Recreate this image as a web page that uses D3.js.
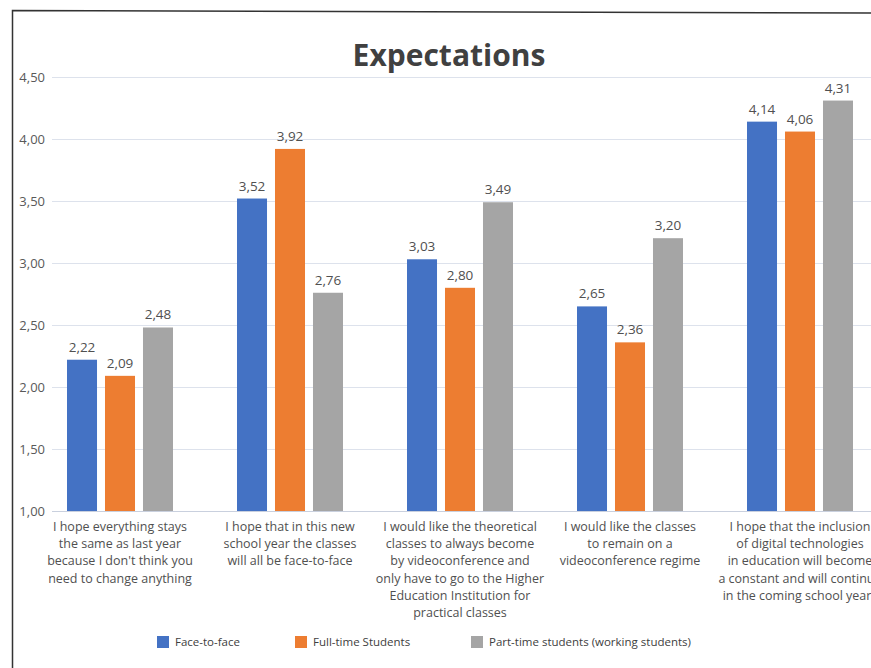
<!DOCTYPE html>
<html>
<head>
<meta charset="utf-8">
<script src="https://cdn.jsdelivr.net/npm/d3@7"></script>
<style>
  body { margin: 0; background: #fff; }
  svg { display: block; font-family: "Open Sans", "Noto Sans", sans-serif; }
</style>
</head>
<body>
<svg id="chart" width="871" height="668"></svg>
<script>
// data
const categories = [
  ["I hope everything stays", "the same as last year", "because I don't think you", "need to change anything"],
  ["I hope that in this new", "school year the classes", "will all be face-to-face"],
  ["I would like the theoretical", "classes to always become", "by videoconference and", "only have to go to the Higher", "Education Institution for", "practical classes"],
  ["I would like the classes", "to remain on a", "videoconference regime"],
  ["I hope that the inclusion", "of digital technologies", "in education will become", "a constant and will continue", "in the coming school years"]
];
const seriesNames = ["Face-to-face", "Full-time Students", "Part-time students (working students)"];
const faceToFace = [2.22, 3.52, 3.03, 2.65, 4.14];
const fullTime = [2.09, 3.92, 2.80, 2.36, 4.06];
const partTime = [2.48, 2.76, 3.49, 3.20, 4.31];
const yTicks = [1.0, 1.5, 2.0, 2.5, 3.0, 3.5, 4.0, 4.5];
const colors = ["#4472c4", "#ed7d31", "#a5a5a5"];

const series = [faceToFace, fullTime, partTime];
const fmt = v => d3.format(".2f")(v).replace(".", ",");

const svg = d3.select("#chart");

// frame of the scanned figure
svg.append("path")
    .attr("d", "M12.5,668 L12.5,10.5 L871,13")
    .attr("fill", "none")
    .attr("stroke", "#333")
    .attr("stroke-width", 1.5);

const y = d3.scaleLinear().domain([1, 4.5]).range([511, 77]);
const x0 = d3.scaleBand().domain(d3.range(categories.length)).range([35, 885]).padding(0);
const x1 = d3.scaleBand().domain(d3.range(series.length))
    .range([32, x0.bandwidth() - 32]).paddingInner(0.21);

// gridlines
svg.append("g").selectAll("line")
    .data(yTicks)
    .join("line")
    .attr("x1", 52)
    .attr("x2", 871)
    .attr("y1", d => Math.round(y(d)) + 0.5)
    .attr("y2", d => Math.round(y(d)) + 0.5)
    .attr("stroke", d => d === 1 ? "#c9d0de" : "#dde2ec")
    .attr("stroke-width", 1);

// y tick labels
svg.append("g").selectAll("text")
    .data(yTicks)
    .join("text")
    .attr("x", 45)
    .attr("y", d => y(d))
    .attr("dy", "0.35em")
    .attr("text-anchor", "end")
    .attr("font-size", 13)
    .attr("fill", "#595959")
    .text(fmt);

// bars
const groups = svg.append("g").selectAll("g")
    .data(categories)
    .join("g")
    .attr("transform", (d, i) => `translate(${x0(i)},0)`);

const cells = groups.selectAll("g.cell")
    .data((d, i) => series.map((s, j) => ({ j, v: s[i] })))
    .join("g")
    .attr("class", "cell");

cells.append("rect")
    .attr("x", d => x1(d.j))
    .attr("y", d => y(d.v))
    .attr("width", x1.bandwidth())
    .attr("height", d => y(1) - y(d.v))
    .attr("fill", d => colors[d.j]);

cells.append("text")
    .attr("x", d => x1(d.j) + x1.bandwidth() / 2)
    .attr("y", d => y(d.v) - 8)
    .attr("text-anchor", "middle")
    .attr("font-size", 13.5)
    .attr("fill", "#505050")
    .text(d => fmt(d.v));

// category labels
groups.append("text")
    .attr("x", x0.bandwidth() / 2)
    .attr("y", 531)
    .attr("text-anchor", "middle")
    .attr("font-size", 12.5)
    .attr("fill", "#505050")
    .selectAll("tspan")
    .data(d => d)
    .join("tspan")
    .attr("x", x0.bandwidth() / 2)
    .attr("dy", (d, i) => i === 0 ? 0 : 17.2)
    .text(d => d);

// title
svg.append("text")
    .attr("x", 449)
    .attr("y", 66)
    .attr("text-anchor", "middle")
    .attr("font-size", 30)
    .attr("font-weight", "bold")
    .attr("fill", "#404040")
    .text("Expectations");

// legend
const legendX = [157, 295, 471];
const legend = svg.append("g").selectAll("g")
    .data(seriesNames)
    .join("g")
    .attr("transform", (d, i) => `translate(${legendX[i]},636)`);

legend.append("rect")
    .attr("width", 12)
    .attr("height", 12)
    .attr("fill", (d, i) => colors[i]);

legend.append("text")
    .attr("x", 18)
    .attr("y", 6)
    .attr("dy", "0.35em")
    .attr("font-size", 11.5)
    .attr("fill", "#404040")
    .text(d => d);
</script>
</body>
</html>
